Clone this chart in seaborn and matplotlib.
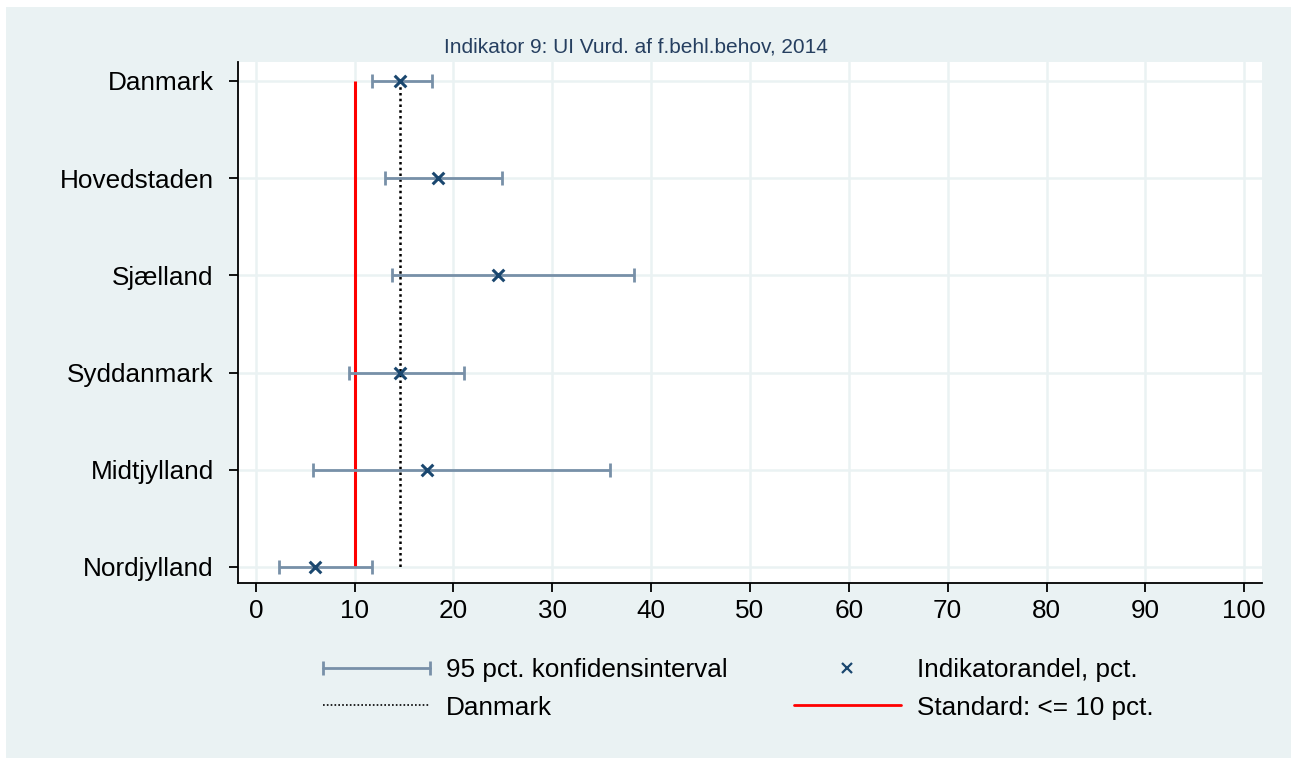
import numpy as np
import pandas as pd
import seaborn as sns
import matplotlib
matplotlib.use("Agg")
import matplotlib.pyplot as plt
from matplotlib.lines import Line2D
from matplotlib.legend_handler import HandlerLine2D
from matplotlib.patches import Rectangle

# ---- data ----
regions = ["Danmark", "Hovedstaden", "Sjælland", "Syddanmark", "Midtjylland", "Nordjylland"]
indicator = [14.6, 18.45, 24.55, 14.6, 17.3, 5.95]
ci_low = [11.8, 13.05, 13.8, 9.45, 5.8, 2.35]
ci_high = [17.85, 24.95, 38.3, 21.05, 35.8, 11.8]
standard_value = 10
x_ticks = [0, 10, 20, 30, 40, 50, 60, 70, 80, 90, 100]
title_text = "Indikator 9: UI Vurd. af f.behl.behov, 2014"
legend_labels = ["95 pct. konfidensinterval", "Danmark",
                 "Indikatorandel, pct.", "Standard: <= 10 pct."]

# ---- styles ----
BG = "#eaf2f3"
CI_COLOR = "#7890a8"
NAVY = "#1a476f"
W, H = 1291, 758
FS = 18.8

sns.set_theme(style="ticks")
plt.rcParams["font.family"] = ["Liberation Sans", "DejaVu Sans"]

df = pd.DataFrame({"region": regions, "indicator": indicator,
                   "lo": ci_low, "hi": ci_high})
df["pos"] = np.arange(len(df))

fig = plt.figure(figsize=(W / 100, H / 100), dpi=100, facecolor=BG)
fig.patches.append(Rectangle((0, 0), 6 / W, 1, transform=fig.transFigure,
                             facecolor="white", edgecolor="none", zorder=-10))
fig.patches.append(Rectangle((0, 1 - 7 / H), 1, 7 / H, transform=fig.transFigure,
                             facecolor="white", edgecolor="none", zorder=-10))

ax = fig.add_axes([238 / W, 1 - 583 / H, (1262 - 238) / W, (583 - 62) / H])
ax.set_facecolor("white")

# reference lines
n = len(df)
ax.vlines(standard_value, df["pos"].iloc[0], df["pos"].iloc[-1], color="#ff0000",
          lw=2.2, zorder=2)
ax.vlines(df["indicator"].iloc[0], df["pos"].iloc[0], df["pos"].iloc[-1],
          color="black", lw=1.8, linestyles=[(0, (1, 1.3))], zorder=3)

# confidence intervals
ax.errorbar(df["indicator"], df["pos"],
            xerr=[df["indicator"] - df["lo"], df["hi"] - df["indicator"]],
            fmt="none", ecolor=CI_COLOR, elinewidth=2, capsize=4.7, capthick=2,
            zorder=4)

# indicator markers
sns.scatterplot(data=df, x="indicator", y="pos", marker="x", color=NAVY,
                s=70, linewidth=2.2, ax=ax, zorder=5, legend=False)

ax.set_xlim(-1.8, 101.8)
ax.set_ylim(n - 1 + 0.165, -0.195)
ax.set_xticks(x_ticks)
ax.set_xticklabels([str(t) for t in x_ticks])
ax.set_yticks(df["pos"])
ax.set_yticklabels(regions)
ax.set_xlabel("")
ax.set_ylabel("")
ax.grid(True, color=BG, lw=1.8)
ax.set_axisbelow(True)
for s in ["top", "right"]:
    ax.spines[s].set_visible(False)
for s in ["left", "bottom"]:
    ax.spines[s].set_color("black")
    ax.spines[s].set_linewidth(1.3)
ax.tick_params(axis="both", direction="out", length=6.5, width=1.3,
               colors="black", labelsize=FS, left=True, bottom=True)
ax.tick_params(axis="y", pad=11)
ax.tick_params(axis="x", pad=5)

fig.text(636 / W, 1 - 47 / H, title_text, ha="center", va="center",
         fontsize=15, color="#263f60")

# legend
ci_handle = Line2D([], [], color=CI_COLOR, lw=2, marker="|", markersize=9.4, mew=2)
dk_handle = Line2D([], [], color="black", lw=1.2, ls=(0, (1, 1.3)))
ind_handle = Line2D([], [], color=NAVY, marker="x", ls="none", markersize=6.5, mew=1.6)
std_handle = Line2D([], [], color="#ff0000", lw=2)
leg = fig.legend(handles=[ci_handle, dk_handle, ind_handle, std_handle],
                 labels=legend_labels, ncol=2, loc="center",
                 bbox_to_anchor=(738 / W, 1 - 689 / H), frameon=False, fontsize=FS,
                 handlelength=4.1, handletextpad=0.6, columnspacing=2.55,
                 labelspacing=0.5,
                 handler_map={ci_handle: HandlerLine2D(numpoints=2, marker_pad=0)})
for t in leg.get_texts():
    t.set_color("black")

fig.savefig("out.png", dpi=100, facecolor=BG)
